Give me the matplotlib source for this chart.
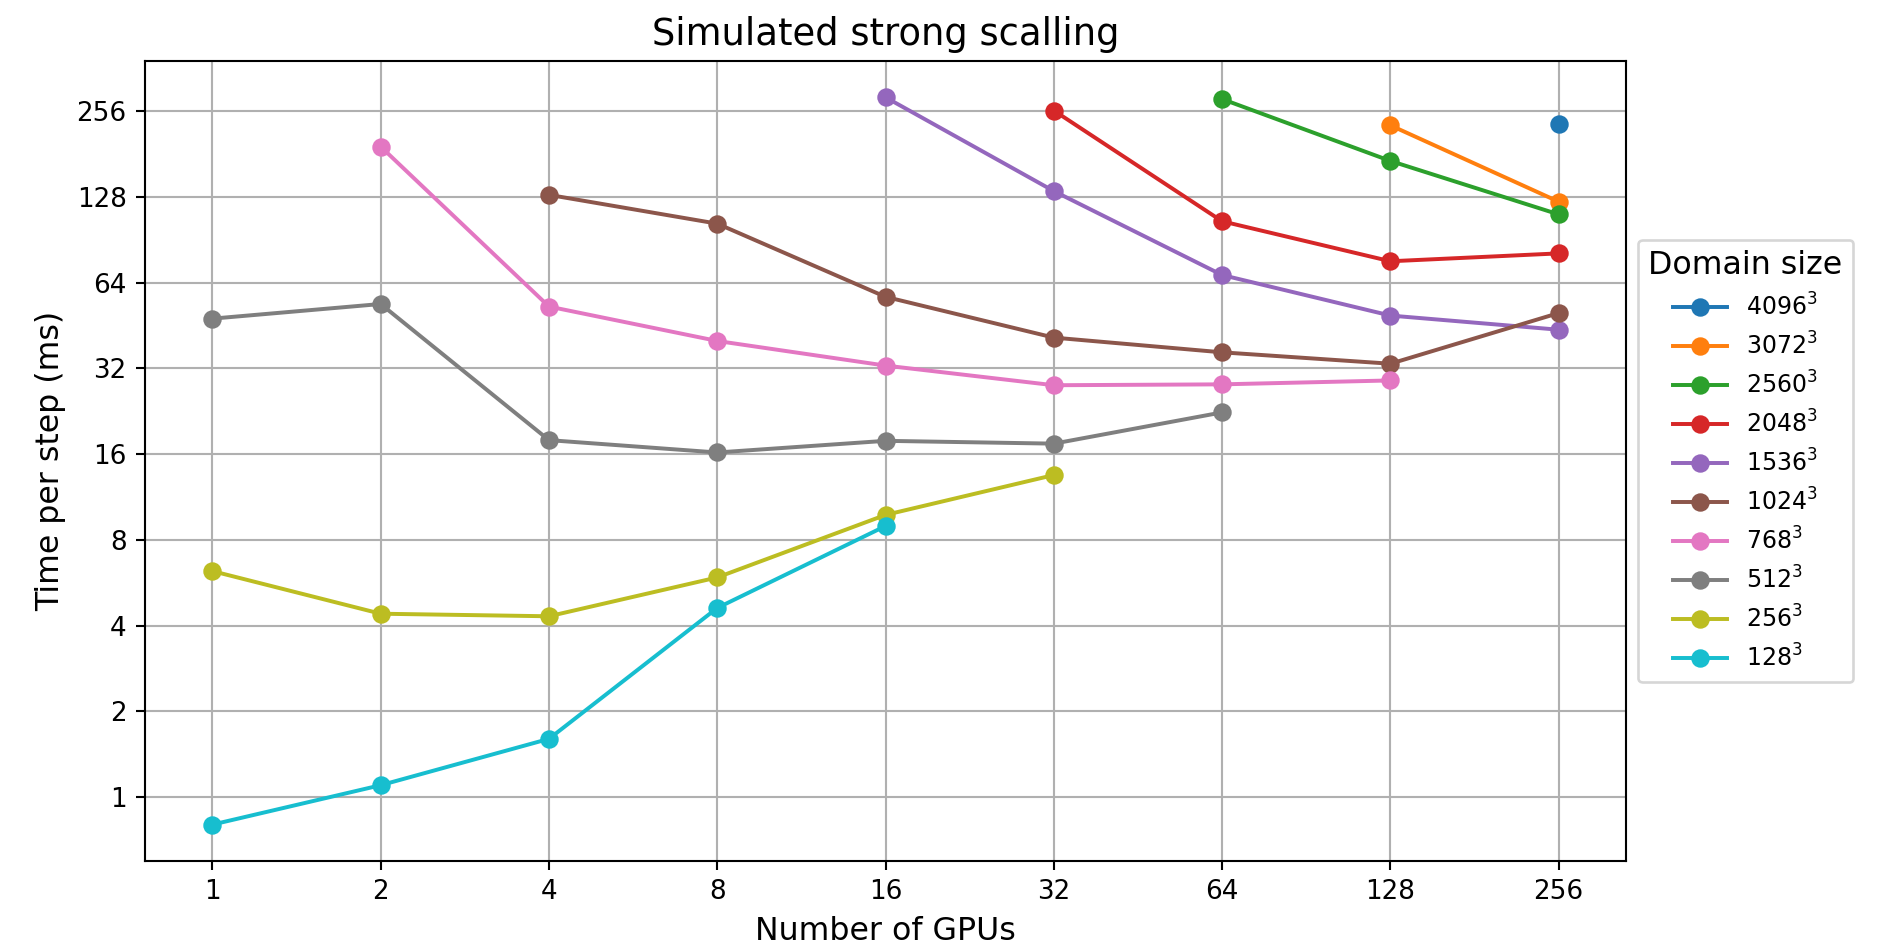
import numpy as np
import matplotlib
matplotlib.use("Agg")
import matplotlib.pyplot as plt

# time per step (ms) against number of GPUs, one series per domain size
gpus = [1, 2, 4, 8, 16, 32, 64, 128, 256]

sizes = ["4096", "3072", "2560", "2048", "1536", "1024", "768", "512", "256", "128"]

gpus_4096 = [256]
time_4096 = [230]

gpus_3072 = [128, 256]
time_3072 = [228, 123]

gpus_2560 = [64, 128, 256]
time_2560 = [282, 171, 111]

gpus_2048 = [32, 64, 128, 256]
time_2048 = [257, 105, 76, 81]

gpus_1536 = [16, 32, 64, 128, 256]
time_1536 = [286, 134, 68, 49, 43.7]

gpus_1024 = [4, 8, 16, 32, 64, 128, 256]
time_1024 = [130, 103, 57, 41, 36.4, 33.2, 50]

gpus_768 = [2, 4, 8, 16, 32, 64, 128]
time_768 = [192, 52.7, 39.9, 32.7, 27.9, 28.1, 29.0]

gpus_512 = [1, 2, 4, 8, 16, 32, 64]
time_512 = [47.8, 53.8, 17.9, 16.2, 17.8, 17.4, 22.4]

gpus_256 = [1, 2, 4, 8, 16, 32]
time_256 = [6.21, 4.40, 4.31, 5.90, 9.78, 13.5]

gpus_128 = [1, 2, 4, 8, 16]
time_128 = [0.80, 1.10, 1.60, 4.61, 8.94]

series = [
    (gpus_4096, time_4096),
    (gpus_3072, time_3072),
    (gpus_2560, time_2560),
    (gpus_2048, time_2048),
    (gpus_1536, time_1536),
    (gpus_1024, time_1024),
    (gpus_768, time_768),
    (gpus_512, time_512),
    (gpus_256, time_256),
    (gpus_128, time_128),
]
y_ticks = [1, 2, 4, 8, 16, 32, 64, 128, 256]

dpi = 189.4
fig = plt.figure(figsize=(1894 / dpi, 948 / dpi), dpi=dpi)
ax = fig.add_axes([0.0766, 0.0918, 0.7819, 0.8439])

for name, (x, y) in zip(sizes, series):
    ax.plot(x, y, marker="o", label=f"${name}^3$")

ax.set_xscale("log", base=2)
ax.set_yscale("log", base=2)
ax.set_xticks(gpus)
ax.set_xticklabels([str(g) for g in gpus])
ax.set_yticks(y_ticks)
ax.set_yticklabels([str(t) for t in y_ticks])
ax.minorticks_off()
ax.grid(True)

ax.set_title("Simulated strong scalling", fontsize=14)
ax.set_xlabel("Number of GPUs", fontsize=12)
ax.set_ylabel("Time per step (ms)", fontsize=12)
ax.legend(title="Domain size", loc="center left", bbox_to_anchor=(1, 0.5),
          fontsize=9, title_fontsize=12, handlelength=2.3, borderpad=0.45)

fig.savefig("out.png", dpi=dpi)
